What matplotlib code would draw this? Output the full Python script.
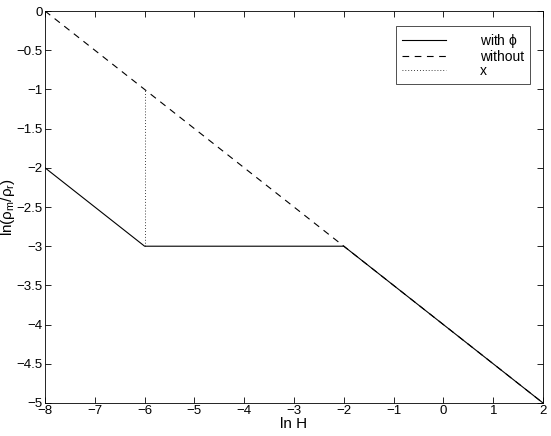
import numpy as np
import matplotlib
matplotlib.use('Agg')
import matplotlib.pyplot as plt

plt.rcParams['font.family'] = ['Liberation Sans', 'DejaVu Sans']
plt.rcParams['mathtext.fontset'] = 'custom'
plt.rcParams['mathtext.rm'] = 'Liberation Sans'
plt.rcParams['mathtext.it'] = 'Liberation Sans'

# data
x_with = [-8, -6, -2, 2]
y_with = [-2, -3, -3, -5]
x_without = [-8, 2]
y_without = [0, -5]
x_x = [-6, -6]
y_x = [-3, -1]

fig = plt.figure(figsize=(5.51, 4.36), dpi=100)
ax = fig.add_axes([0.0817, 0.0757, 0.9038, 0.899])

ax.plot(x_with, y_with, color='black', lw=0.8, ls='-', label=r'with $\phi$')
ax.plot(x_without, y_without, color='black', lw=0.8, ls=(0, (6, 5)), label='without')
ax.plot(x_x, y_x, color='black', lw=0.6, ls=(0, (1, 2.5)), label='x')

ax.set_xlim(-8, 2)
ax.set_ylim(-5, 0)
ax.set_xticks(np.arange(-8, 3, 1))
ax.set_yticks(np.arange(-5, 0.1, 0.5))
ax.set_xticklabels(['\u22128', '\u22127', '\u22126', '\u22125', '\u22124', '\u22123',
                    '\u22122', '\u22121', '0', '1', '2'])
ax.set_yticklabels(['\u22125', '\u22124.5', '\u22124', '\u22123.5', '\u22123', '\u22122.5',
                    '\u22122', '\u22121.5', '\u22121', '\u22120.5', '0'])
ax.tick_params(direction='in', top=True, right=True, labelsize=9.5, length=4, width=0.6, pad=1.5)
for s in ax.spines.values():
    s.set_linewidth(0.6)

ax.set_xlabel('ln H', fontsize=11, labelpad=0)
ax.set_ylabel(r'ln($\rho_{\rm m}$/$\rho_{\rm r}$)', fontsize=11, labelpad=0)

leg = ax.legend(loc='upper right', fontsize=10, frameon=True, fancybox=False,
                edgecolor='black', handlelength=3.2, borderpad=0.45, labelspacing=0.0,
                handletextpad=2.4, markerfirst=True, bbox_to_anchor=(0.988, 0.98))
leg.get_frame().set_linewidth(0.6)

fig.savefig('out.png', dpi=100)
